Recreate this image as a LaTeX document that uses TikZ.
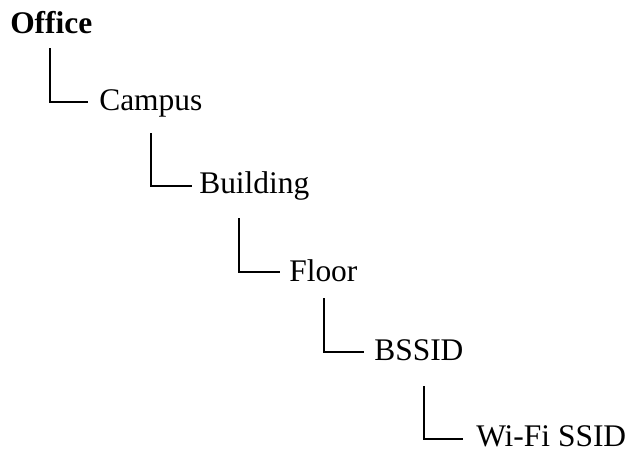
\documentclass[tikz,border=0pt]{standalone}
\usepackage{fontspec}
\setmainfont{Liberation Serif}
\usetikzlibrary{calc}
\begin{document}
\begin{tikzpicture}[x=0.75pt,y=-0.75pt,
  level/.style={anchor=base west,inner sep=0pt,font=\fontsize{23.6}{28}\selectfont},
  root/.style={level,font=\fontsize{23.6}{28}\selectfont\bfseries},
  branch/.style={draw=black,line width=1.4pt}]
\useasboundingbox (0,0) rectangle (628,451);
% hierarchy labels
\node[root]  (office)   at (10,33)  {Office};
\node[level] (campus)   at (99,110) {Campus};
\node[level] (building) at (199,193) {Building};
\node[level] (floor)    at (289,281) {Floor};
\node[level] (bssid)    at (374,360) {BSSID};
\node[level] (ssid)     at (476,446) {Wi-Fi SSID};
% elbow connectors from each parent down to its child
\draw[branch] ($(office.base west)+(40,15)$)   |- ($(campus.base west)+(-11,-8)$);
\draw[branch] ($(campus.base west)+(52,23)$)   |- ($(building.base west)+(-7,-7)$);
\draw[branch] ($(building.base west)+(40,25)$) |- ($(floor.base west)+(-9,-9)$);
\draw[branch] ($(floor.base west)+(35,17)$)    |- ($(bssid.base west)+(-10,-8)$);
\draw[branch] ($(bssid.base west)+(50,26)$)    |- ($(ssid.base west)+(-13,-7)$);
\end{tikzpicture}
\end{document}
